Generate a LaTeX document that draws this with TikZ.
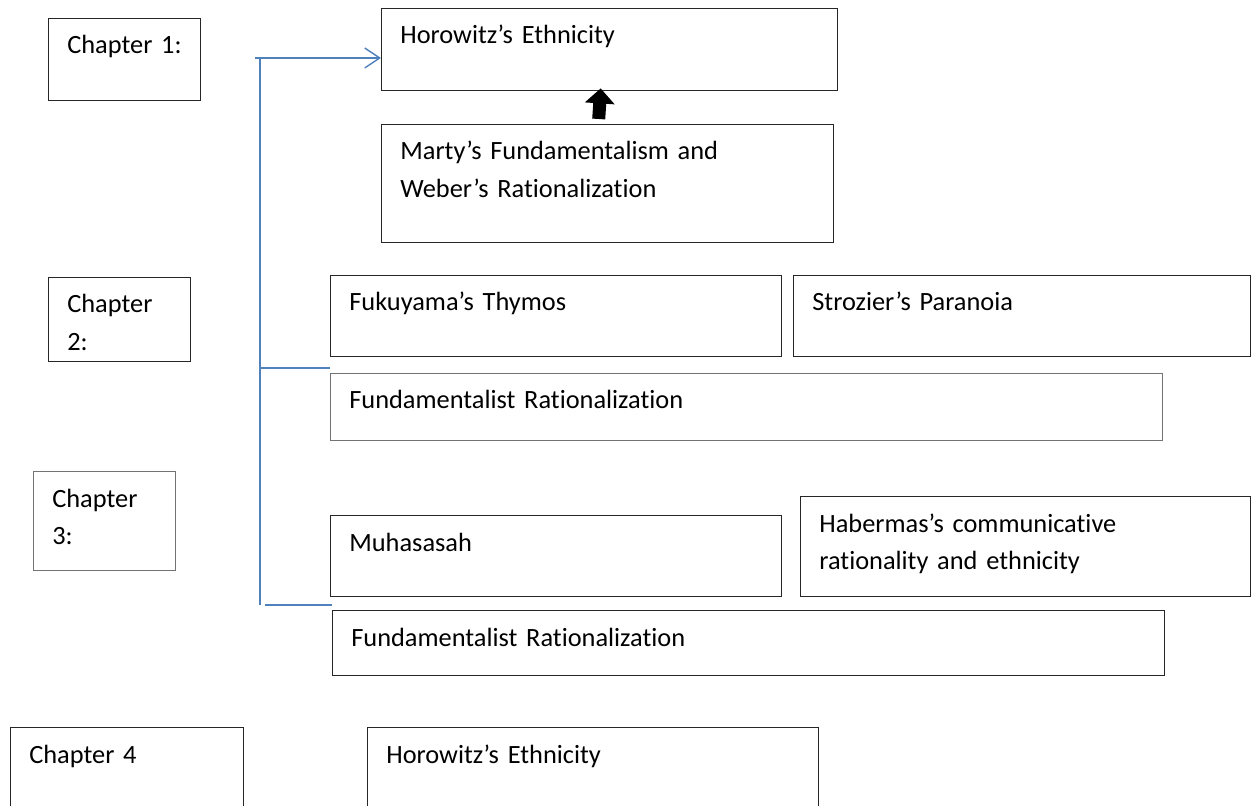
\documentclass[tikz,border=0pt]{standalone}
\usepackage{fontspec}
\setmainfont{Carlito}[Ligatures={TeX,NoCommon}]
\usetikzlibrary{arrows.meta}
\definecolor{linkblue}{RGB}{79,129,189}
\tikzstyle{box} = [draw=black!85, line width=0.8pt, anchor=north west, inner sep=0pt]
\tikzstyle{greybox} = [box, draw=black!55, line width=0.6pt]
\tikzstyle{txt} = [anchor=base west, align=left, inner sep=0pt, xshift=0.38cm, yshift=-0.72cm, text width=9cm]
\tikzstyle{link} = [draw=linkblue, line width=0.8pt]
\tikzstyle{bigarrow} = [line width=0.26cm, -{Triangle[length=0.3cm, width=0.58cm]}]

\begin{document}
\begin{tikzpicture}[font=\fontsize{15}{21.3}\selectfont]

    \useasboundingbox (0, 0) rectangle (25.04, -16.12);
    \clip (0, 0) rectangle (25.04, -16.12);

    % chapters
    \node (ch1) [box, minimum width=3.04cm, minimum height=1.64cm, label={[txt]north west:{Chapter 1:}}] at (0.96, -0.36) {};
    \node (ch2) [box, minimum width=2.84cm, minimum height=1.68cm, label={[txt]north west:{Chapter\\2:}}] at (0.96, -5.54) {};
    \node (ch3) [greybox, minimum width=2.84cm, minimum height=1.98cm, label={[txt]north west:{Chapter\\3:}}] at (0.66, -9.42) {};
    \node (ch4) [box, minimum width=4.66cm, minimum height=2cm, label={[txt]north west:{Chapter 4}}] at (0.2, -14.54) {};

    % chapter 1
    \node (hor) [box, minimum width=9.12cm, minimum height=1.64cm, label={[txt]north west:{Horowitz's Ethnicity}}] at (7.62, -0.16) {};
    \node (marty) [box, minimum width=9.04cm, minimum height=2.36cm, label={[txt]north west:{Marty's Fundamentalism and\\Weber's Rationalization}}] at (7.62, -2.48) {};

    % chapter 2
    \node (fuku) [box, minimum width=9.02cm, minimum height=1.62cm, label={[txt]north west:{Fukuyama's Thymos}}] at (6.6, -5.5) {};
    \node (stroz) [box, minimum width=9.14cm, minimum height=1.62cm, label={[txt]north west:{Strozier's Paranoia}}] at (15.86, -5.5) {};
    \node (fr1) [greybox, minimum width=16.64cm, minimum height=1.34cm, label={[txt]north west:{Fundamentalist Rationalization}}] at (6.6, -7.46) {};

    % chapter 3
    \node (muha) [box, minimum width=9.02cm, minimum height=1.62cm, label={[txt]north west:{Muhasasah}}] at (6.6, -10.3) {};
    \node (haber) [box, minimum width=9cm, minimum height=2cm, label={[txt]north west:{Habermas's communicative\\rationality and ethnicity}}] at (16, -9.92) {};
    \node (fr2) [box, minimum width=16.64cm, minimum height=1.3cm, label={[txt]north west:{Fundamentalist Rationalization}}] at (6.64, -12.2) {};

    % chapter 4
    \node (hor2) [box, minimum width=9.02cm, minimum height=2cm, label={[txt]north west:{Horowitz's Ethnicity}}] at (7.34, -14.54) {};

    % blue bracket
    \coordinate (sp1) at (5.2, -1.16);
    \coordinate (sp2) at (5.2, -7.36);
    \coordinate (sp3) at (5.2, -12.1);

    \draw [link] (sp1) -- (sp3);
    \draw [link, -{Straight Barb[length=0.3cm, width=0.4cm]}] ([xshift=-0.1cm]sp1) -- (sp1 -| hor.west);
    \draw [link] (sp2) -- (sp2 -| fr1.west);
    \draw [link] ([xshift=0.1cm]sp3) -- (sp3 -| fr2.west);

    \draw [bigarrow] ([shift={(-0.18, 0.1)}]marty.north) -- ([shift={(-0.18, 0.06)}]hor.south);

\end{tikzpicture}
\end{document}
